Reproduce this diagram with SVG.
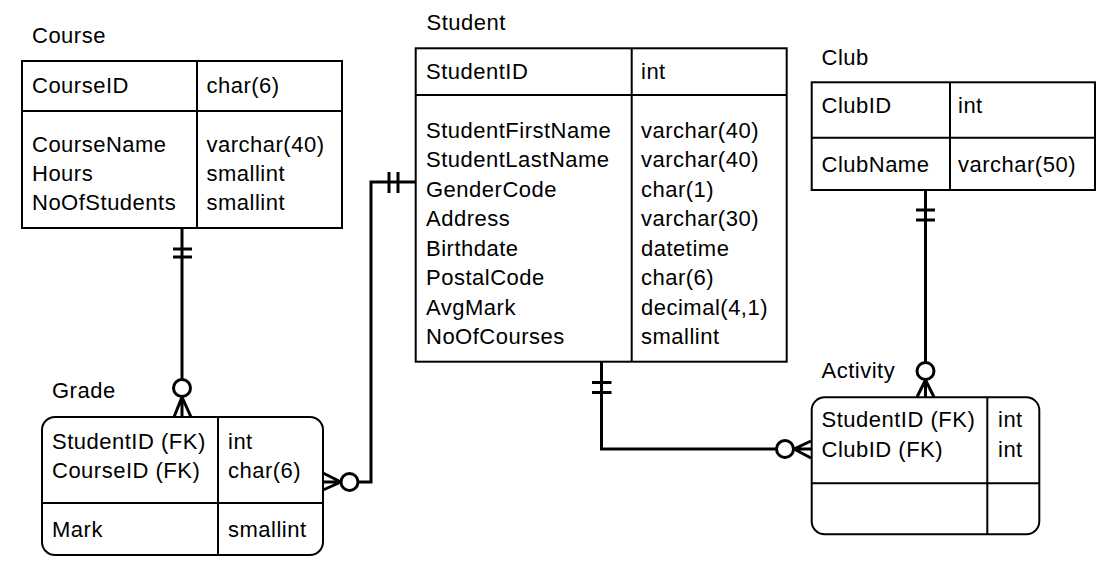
<svg xmlns="http://www.w3.org/2000/svg" width="1110" height="563" viewBox="0 0 1110 563">
<style>
text{font-family:"Liberation Sans",Arial,sans-serif;font-size:22px;letter-spacing:0.5px;fill:#000}
.box{fill:#fff;stroke:#000;stroke-width:2}
.ln{stroke:#000;stroke-width:2;fill:none}
.cn{stroke:#000;stroke-width:3;fill:none}
.ci{stroke:#000;stroke-width:3;fill:#fff}
</style>
<rect width="1110" height="563" fill="#fff"/>
<g id="connectors">
<!-- Course - Grade -->
<path class="cn" d="M182,228 V379"/>
<path class="cn" d="M173,249 H192 M173,257 H192"/>
<circle class="ci" cx="182" cy="388" r="8.5"/>
<path class="cn" d="M182,397 V417 M182,397 L174,417 M182,397 L191,417"/>
<!-- Student - Grade -->
<path class="cn" d="M415,182 H371 V482 H358"/>
<path class="cn" d="M389,172 V193 M398,172 V193"/>
<circle class="ci" cx="349.5" cy="482" r="8.5"/>
<path class="cn" d="M341,482 H323 M341,482 L323,473 M341,482 L323,490"/>
<!-- Student - Activity -->
<path class="cn" d="M601.5,362 V449 H776"/>
<path class="cn" d="M592,382.5 H611.5 M592,392.5 H611.5"/>
<circle class="ci" cx="785" cy="449" r="8.5"/>
<path class="cn" d="M794,449 H811 M794,449 L811,441 M794,449 L811,458"/>
<!-- Club - Activity -->
<path class="cn" d="M925.5,190 V362"/>
<path class="cn" d="M916,210 H935 M916,220 H935"/>
<circle class="ci" cx="925.5" cy="371" r="8.5"/>
<path class="cn" d="M925.5,380 V397 M925.5,380 L917,397 M925.5,380 L934,397"/>
</g>
<g id="course">
<text x="32" y="43">Course</text>
<rect class="box" x="22" y="61" width="320" height="167"/>
<path class="ln" d="M197,61 V228 M22,111 H342"/>
<text x="32" y="93">CourseID</text>
<text x="206.5" y="93">char(6)</text>
<text x="32" y="152">CourseName</text>
<text x="206.5" y="152">varchar(40)</text>
<text x="32" y="181">Hours</text>
<text x="206.5" y="181">smallint</text>
<text x="32" y="210">NoOfStudents</text>
<text x="206.5" y="210">smallint</text>
</g>
<g id="student">
<text x="426.5" y="30">Student</text>
<rect class="box" x="415.7" y="48.3" width="371" height="313.4"/>
<path class="ln" d="M631.7,48.3 V361.7 M415.7,95 H786.7"/>
<text x="426" y="79.3">StudentID</text>
<text x="641" y="79.3">int</text>
<text x="426" y="137.7">StudentFirstName</text>
<text x="641" y="137.7">varchar(40)</text>
<text x="426" y="167.2">StudentLastName</text>
<text x="641" y="167.2">varchar(40)</text>
<text x="426" y="196.7">GenderCode</text>
<text x="641" y="196.7">char(1)</text>
<text x="426" y="226.2">Address</text>
<text x="641" y="226.2">varchar(30)</text>
<text x="426" y="255.7">Birthdate</text>
<text x="641" y="255.7">datetime</text>
<text x="426" y="285.2">PostalCode</text>
<text x="641" y="285.2">char(6)</text>
<text x="426" y="314.7">AvgMark</text>
<text x="641" y="314.7">decimal(4,1)</text>
<text x="426" y="344.2">NoOfCourses</text>
<text x="641" y="344.2">smallint</text>
</g>
<g id="club">
<text x="821.5" y="65">Club</text>
<rect class="box" x="811.7" y="82.3" width="283.3" height="107.7"/>
<path class="ln" d="M950,82.3 V190 M811.7,137.7 H1095"/>
<text x="821.5" y="113">ClubID</text>
<text x="958" y="113">int</text>
<text x="821.5" y="171.7">ClubName</text>
<text x="958" y="171.7">varchar(50)</text>
</g>
<g id="grade">
<text x="52" y="398">Grade</text>
<rect class="box" x="42" y="417" width="281" height="138" rx="13" ry="13"/>
<path class="ln" d="M218,417 V555 M42,503 H323"/>
<text x="52" y="449">StudentID (FK)</text>
<text x="228" y="449">int</text>
<text x="52" y="478">CourseID (FK)</text>
<text x="228" y="478">char(6)</text>
<text x="52" y="537">Mark</text>
<text x="228" y="537">smallint</text>
</g>
<g id="activity">
<text x="821.5" y="378.3">Activity</text>
<rect class="box" x="811.7" y="397.3" width="227.6" height="137" rx="13" ry="13"/>
<path class="ln" d="M987.3,397.3 V534.3 M811.7,483.3 H1039.3"/>
<text x="821.5" y="427.3">StudentID (FK)</text>
<text x="998" y="427.3">int</text>
<text x="821.5" y="456.7">ClubID (FK)</text>
<text x="998" y="456.7">int</text>
</g>
</svg>
